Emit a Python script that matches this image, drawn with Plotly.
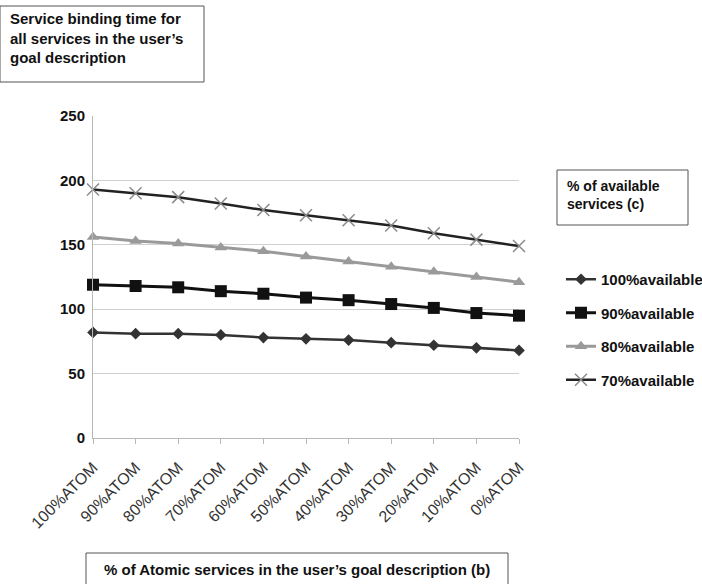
import plotly.graph_objects as go

categories = ["100%ATOM", "90%ATOM", "80%ATOM", "70%ATOM", "60%ATOM", "50%ATOM",
              "40%ATOM", "30%ATOM", "20%ATOM", "10%ATOM", "0%ATOM"]
avail_100 = [82, 81, 81, 80, 78, 77, 76, 74, 72, 70, 68]
avail_90 = [119, 118, 117, 114, 112, 109, 107, 104, 101, 97, 95]
avail_80 = [156, 153, 151, 148, 145, 141, 137, 133, 129, 125, 121]
avail_70 = [193, 190, 187, 182, 177, 173, 169, 165, 159, 154, 149]
series_names = ["100%available", "90%available", "80%available", "70%available"]
y_ticks = [0, 50, 100, 150, 200, 250]

W, H = 702, 584
L, R, T, B = 93, 183, 116, 146
PW, PH = W - L - R, H - T - B

def px(x):
    return (x - L) / PW

def py(y):
    return (H - B - y) / PH

fig = go.Figure()
styles = [
    dict(line=dict(color="#333333", width=2.5), marker=dict(symbol="diamond", size=9, color="#333333")),
    dict(line=dict(color="#111111", width=3), marker=dict(symbol="square", size=12, color="#111111")),
    dict(line=dict(color="#9a9a9a", width=3), marker=dict(symbol="triangle-up", size=11, color="#9a9a9a")),
    dict(line=dict(color="#222222", width=2.5), marker=dict(symbol="x-thin", size=12, color="#8a8a8a",
                                                            line=dict(width=1.5, color="#8a8a8a"))),
]
for name, vals, st in zip(series_names, [avail_100, avail_90, avail_80, avail_70], styles):
    fig.add_trace(go.Scatter(x=categories, y=vals, name=name, mode="lines+markers",
                             cliponaxis=False, legendgroup=name, **st))

fig.update_layout(
    width=W, height=H,
    margin=dict(l=L, r=R, t=T, b=B, pad=0, autoexpand=False),
    paper_bgcolor="white", plot_bgcolor="white",
    font=dict(family="Liberation Sans, Arial, sans-serif", color="#111111"),
    showlegend=True,
    legend=dict(x=px(561), y=py(263), xanchor="left", yanchor="top",
                font=dict(size=15, family="Liberation Sans, Arial, sans-serif", weight="bold"),
                tracegroupgap=11, itemwidth=30, bgcolor="rgba(0,0,0,0)"),
    xaxis=dict(type="category", range=[0, 10], showgrid=False, showline=True,
               linecolor="#b8b8b8", linewidth=1, ticks="outside", ticklen=5, tickcolor="#b8b8b8",
               tickangle=-45, tickfont=dict(size=16, color="#333333"), ticklabelstandoff=8),
    yaxis=dict(range=[0, 250], tickvals=y_ticks, showgrid=True, gridcolor="#d0d0d0",
               showline=True, linecolor="#b8b8b8", linewidth=1, zeroline=False,
               tickfont=dict(size=15, color="#111111", weight="bold"), ticklabelstandoff=4),
)

box_font = dict(size=15, family="Liberation Sans, Arial, sans-serif", color="#111111", weight="bold")
legend_title_font = dict(size=14, family="Liberation Sans, Arial, sans-serif", color="#111111", weight="bold")
shapes = [
    dict(type="rect", xref="paper", yref="paper", x0=px(0), x1=px(204), y0=py(6), y1=py(82),
         line=dict(color="#555555", width=1)),
    dict(type="rect", xref="paper", yref="paper", x0=px(557), x1=px(688), y0=py(170), y1=py(225),
         line=dict(color="#555555", width=1)),
    dict(type="rect", xref="paper", yref="paper", x0=px(86), x1=px(508), y0=py(553), y1=py(592),
         line=dict(color="#555555", width=1)),
]
fig.update_layout(shapes=shapes)
fig.add_annotation(xref="paper", yref="paper", x=px(8), y=py(8), xanchor="left", yanchor="top",
                   align="left", showarrow=False, font=box_font,
                   text="Service binding time for<br>all services in the user’s<br>goal description")
fig.add_annotation(xref="paper", yref="paper", x=px(565), y=py(176), xanchor="left", yanchor="top",
                   align="left", showarrow=False, font=legend_title_font,
                   text="% of available<br>services (c)")
fig.add_annotation(xref="paper", yref="paper", x=px(297), y=py(569), xanchor="center", yanchor="middle",
                   showarrow=False, font=box_font,
                   text="% of Atomic services in the user’s goal description (b)")

fig.write_html("out.html", config={"displayModeBar": False},
               post_script="document.body.style.margin='0';document.body.style.padding='0';")
